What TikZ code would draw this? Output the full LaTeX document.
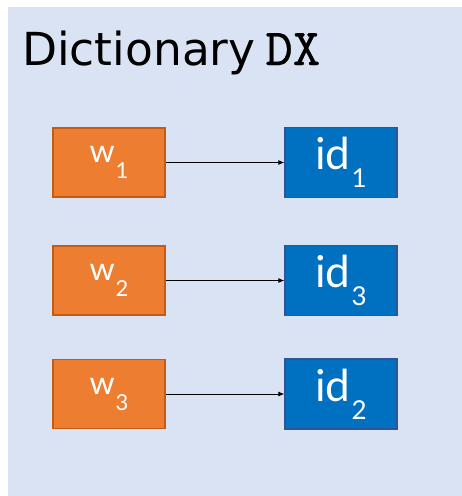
\documentclass[tikz,border=0pt]{standalone}
\usepackage{fontspec}
\setmainfont{DejaVu Sans}
\newfontfamily\boxfont{Lato}
\newfontfamily\dxfont[FakeBold=0.5]{lmmono10-regular.otf}
\usetikzlibrary{arrows.meta}
\definecolor{panel}{HTML}{DAE3F3}
\definecolor{wordfill}{HTML}{ED7D31}
\definecolor{worddraw}{HTML}{C55A11}
\definecolor{idfill}{HTML}{0070C0}
\definecolor{iddraw}{HTML}{2F5597}
% keyword label: small letter with lowered index
\newcommand{\wlabel}[1]{{\boxfont\fontsize{32}{32}\selectfont w\hspace{1pt}\raisebox{-16pt}{\fontsize{22}{22}\selectfont #1}}}
% identifier label: larger letters with lowered index
\newcommand{\idlabel}[1]{{\boxfont\fontsize{44}{44}\selectfont id\hspace{1pt}\raisebox{-18pt}{\fontsize{26}{26}\selectfont #1}}}
\tikzset{
  wordbox/.style={draw=worddraw, line width=1.3pt, fill=wordfill, text=white,
    minimum width=112pt, minimum height=69pt, inner sep=0pt},
  idbox/.style={draw=iddraw, line width=1.3pt, fill=idfill, text=white,
    minimum width=112pt, minimum height=70pt, inner sep=0pt},
  link/.style={draw=black, line width=0.8pt, -{Latex[length=6pt,width=5pt]}}
}
\begin{document}
\begin{tikzpicture}[x=1pt, y=-1pt]
  \useasboundingbox (0,0) rectangle (462,496);
  \fill[panel] (8,7) rectangle (462,496);
  \node[anchor=base west, inner sep=0pt] (title) at (22,65)
    {\fontsize{45.5}{45.5}\selectfont Dictionary\hspace{10pt}\dxfont\fontsize{52}{52}\selectfont DX};

  \node[wordbox] (w1) at (109,162.5) {\wlabel{1}};
  \node[wordbox] (w2) at (109,280.5) {\wlabel{2}};
  \node[wordbox] (w3) at (109,394) {\wlabel{3}};

  \node[idbox] (id1) at (341,162.5) {\idlabel{1}};
  \node[idbox] (id3) at (341,280.5) {\idlabel{3}};
  \node[idbox] (id2) at (341,394) {\idlabel{2}};

  \draw[link] (w1) -- (id1);
  \draw[link] (w2) -- (id3);
  \draw[link] (w3) -- (id2);
\end{tikzpicture}
\end{document}
